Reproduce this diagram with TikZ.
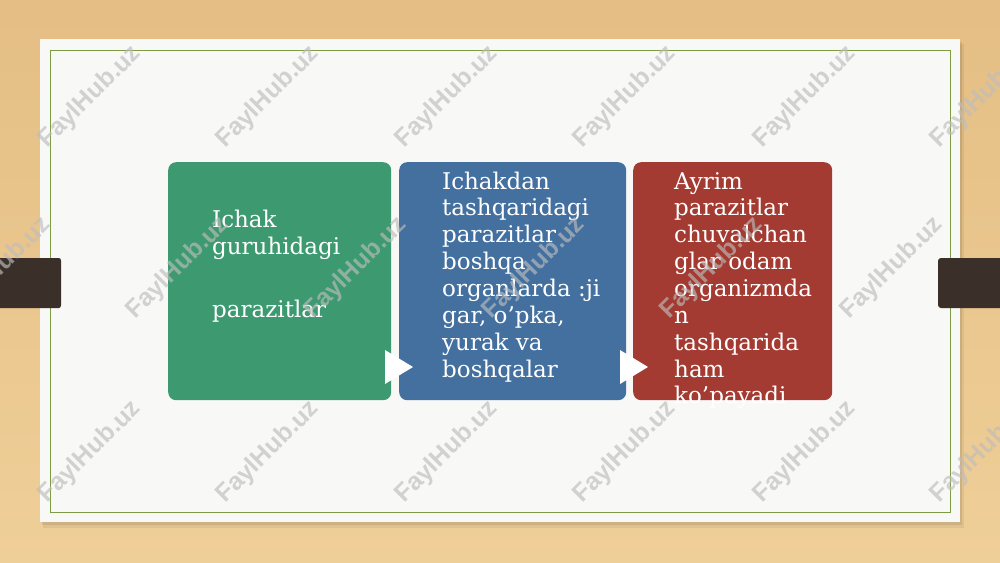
\documentclass[tikz,border=0pt]{standalone}
\usepackage{fontspec}
\setmainfont{DejaVu Serif}
\newfontfamily\wmfont{Liberation Sans}
\definecolor{woodlight}{HTML}{EFCF98}
\definecolor{woodtop}{HTML}{E4BE84}
\definecolor{card}{HTML}{F8F8F7}
\definecolor{cardline}{HTML}{7E9C45}
\definecolor{bar}{HTML}{3A2F29}
\definecolor{boxgreen}{HTML}{3D9970}
\definecolor{boxblue}{HTML}{43709F}
\definecolor{boxred}{HTML}{A33B32}
\definecolor{wmgray}{HTML}{BDBDBD}
\begin{document}
\begin{tikzpicture}[x=1pt,y=-1pt,
  stepbox/.style={draw=none, rounded corners=8pt, inner sep=0pt, anchor=north west},
  txt/.style={text=white, font=\fontsize{23}{26.9}\selectfont, inner sep=0pt, anchor=base west},
  wm/.style={text=wmgray, opacity=0.65, font=\wmfont\bfseries\fontsize{25}{25}\selectfont, rotate=45, inner sep=0pt},
  tri/.style={fill=white, draw=none},
  barst/.style={fill=bar, draw=none}]
\useasboundingbox (0,0) rectangle (1000,562);
% wood background
\shade[top color=woodtop, bottom color=woodlight] (0,0) rectangle (1000,562);
% card with shadow
\fill[black, opacity=0.06] (43,44) rectangle (964,528);
\fill[black, opacity=0.08] (42,42) rectangle (962,525);
\node[fill=card, draw=none, inner sep=0pt, minimum width=920pt, minimum height=483pt, anchor=north west] (card) at (40,39) {};
\node[draw=cardline, line width=1pt, inner sep=0pt, minimum width=900pt, minimum height=462pt, anchor=north west] (frame) at (49.5,49.5) {};
% boxes
\node[stepbox, fill=boxgreen, minimum width=223pt, minimum height=238pt] (g) at (168,162) {};
\node[stepbox, fill=boxblue, minimum width=227pt, minimum height=238pt] (b) at (399,162) {};
\node[stepbox, fill=boxred, minimum width=199pt, minimum height=238pt] (r) at (633,162) {};
% green text
\node[txt] (g1) at (212,227) {Ichak};
\node[txt] (g2) at (212,254) {guruhidagi};
\node[txt] (g3) at (212,317) {parazitlar};
% blue text
\foreach \t [count=\i] in {Ichakdan, tashqaridagi, parazitlar, boshqa, organlarda :ji, {gar, o’pka,}, yurak va, boshqalar}
  \node[txt] (bt\i) at (442,{189+26.86*(\i-1)}) {\t};
% red text
\foreach \t [count=\i] in {Ayrim, parazitlar, chuvalchan, glar odam, organizmda, n, tashqarida, ham, ko’payadi}
  \node[txt] (rt\i) at (674,{189+26.86*(\i-1)}) {\t};
% arrows
\fill[tri] (385,350) -- (413,367) -- (385,384) -- cycle;
\fill[tri] (620,350) -- (648,367) -- (620,384) -- cycle;
% side bars
\fill[barst] (0,258) -- (59,258) to[out=0,in=90] (61,261) -- (61,305) to[out=-90,in=0] (59,308) -- (0,308) -- cycle;
\fill[barst] (1000,258) -- (941,258) to[out=180,in=90] (938,261) -- (938,305) to[out=-90,in=180] (941,308) -- (1000,308) -- cycle;
% watermarks
\foreach \x [count=\i] in {90,268,447,625,805,982} {
  \node[wm] (wa\i) at (\x,97) {FaylHub.uz};
  \node[wm] (wc\i) at (\x,452) {FaylHub.uz};
}
\foreach \x [count=\i] in {0,178,356,534,712,892} {
  \node[wm] (wb\i) at (\x,268) {FaylHub.uz};
}
\end{tikzpicture}
\end{document}
